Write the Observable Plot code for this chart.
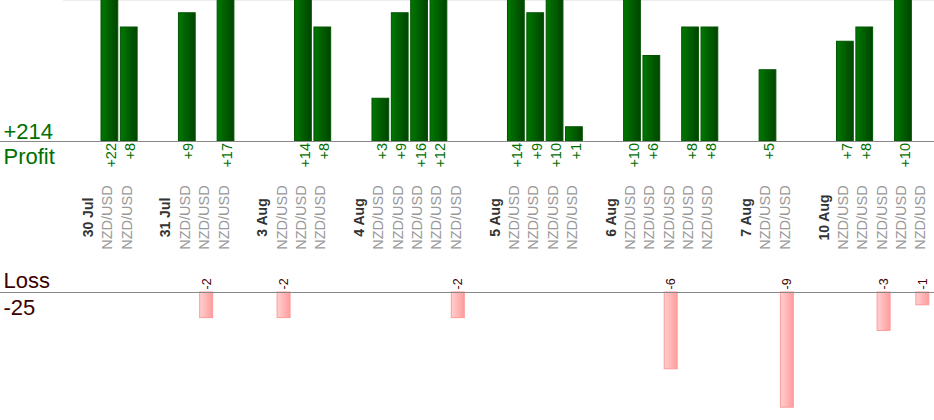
<!DOCTYPE html>
<html>
<head>
<meta charset="utf-8">
<script src="https://cdn.jsdelivr.net/npm/d3@7"></script>
<script src="https://cdn.jsdelivr.net/npm/@observablehq/plot@0.6"></script>
<style>
  html, body { margin: 0; padding: 0; background: #fff; }
  #chart svg { display: block; }
</style>
</head>
<body>
<div id="chart" style="width:934px"></div>
<script>
// ---- data ----
const dates = ["30 Jul", "31 Jul", "3 Aug", "4 Aug", "5 Aug", "6 Aug", "7 Aug", "10 Aug"];
const pairName = "NZD/USD";
const results30Jul = [22, 8];
const results31Jul = [9, -2, 17];
const results3Aug = [-2, 14, 8];
const results4Aug = [3, 9, 16, 12, -2];
const results5Aug = [14, 9, 10, 1];
const results6Aug = [10, 6, -6, 8, 8];
const results7Aug = [5, -9];
const results10Aug = [7, 8, -3, 10, -1];
const resultsByDate = [results30Jul, results31Jul, results3Aug, results4Aug, results5Aug, results6Aug, results7Aug, results10Aug];

// ---- build columns (gap, date header, trades...) ----
const cols = [];
dates.forEach((d, i) => {
  cols.push({key: "gap" + i, kind: "gap"});
  cols.push({key: "date" + i, kind: "date", label: d});
  resultsByDate[i].forEach((v, j) => cols.push({key: `t${i}_${j}`, kind: "trade", label: pairName, value: v}));
});
const keys = cols.map(c => c.key);
const dateCols = cols.filter(c => c.kind === "date");
const tradeCols = cols.filter(c => c.kind === "trade");
const profitRows = tradeCols.filter(c => c.value > 0);
const lossRows = tradeCols.filter(c => c.value < 0);
const totalProfit = d3.sum(profitRows, d => d.value);
const totalLoss = d3.sum(lossRows, d => d.value);

const font = "Arial, 'Liberation Sans', sans-serif";
const xRange = [61, 932];
const profitTop = 141 / 14.25;
const lossBottom = -128 / 12.8;

function gradient(id, c0, c1) {
  return () => {
    const defs = d3.create("svg:defs");
    const g = defs.append("linearGradient").attr("id", id).attr("x1", 0).attr("x2", 1).attr("y1", 0).attr("y2", 0);
    g.append("stop").attr("offset", "0%").attr("stop-color", c0);
    g.append("stop").attr("offset", "100%").attr("stop-color", c1);
    return defs.node();
  };
}

const profitChart = Plot.plot({
  width: 934,
  height: 260,
  marginTop: 0,
  marginBottom: 119,
  marginLeft: 0,
  marginRight: 0,
  style: {fontFamily: font, background: "#fff", overflow: "visible"},
  x: {type: "band", domain: keys, range: xRange, padding: 0, round: false, axis: null},
  y: {domain: [0, profitTop], axis: null},
  marks: [
    gradient("gProfit", "#007800", "#004400"),
    Plot.ruleY([profitTop], {stroke: "#ececec", insetLeft: 63}),
    Plot.barY(profitRows, {x: "key", y: "value", fill: "url(#gProfit)", stroke: "#005400", insetLeft: 1.3, insetRight: 1.3, clip: true}),
    Plot.ruleY([0], {stroke: "#888"}),
    Plot.text(profitRows, {x: "key", y: 0, text: d => "+" + d.value, rotate: -90, textAnchor: "end", dx: 1.5, dy: 1.5, fill: "#007000", fontSize: 14.5}),
    Plot.text(dateCols, {x: "key", text: "label", frameAnchor: "bottom", dx: 2.5, dy: 76, rotate: -90, fontWeight: "bold", fill: "#333", fontSize: 14}),
    Plot.text(tradeCols, {x: "key", text: "label", frameAnchor: "bottom", dx: 2.5, dy: 76, rotate: -90, fill: "#999", fontSize: 14.5}),
    Plot.text(["+" + totalProfit], {frameAnchor: "bottom-left", textAnchor: "start", lineAnchor: "bottom", dx: 3, dy: -3, fill: "#007000", fontSize: 22}),
    Plot.text(["Profit"], {frameAnchor: "bottom-left", textAnchor: "start", lineAnchor: "bottom", dx: 3, dy: 22, fill: "#007000", fontSize: 22})
  ]
});

const lossChart = Plot.plot({
  width: 934,
  height: 160,
  marginTop: 32,
  marginBottom: 0,
  marginLeft: 0,
  marginRight: 0,
  style: {fontFamily: font, background: "#fff", overflow: "visible"},
  x: {type: "band", domain: keys, range: xRange, padding: 0, round: false, axis: null},
  y: {domain: [lossBottom, 0], axis: null},
  marks: [
    gradient("gLoss", "#ffd0d0", "#ff9c9c"),
    Plot.barY(lossRows, {x: "key", y: "value", fill: "url(#gLoss)", stroke: "#ff9999", insetLeft: 3.2, insetRight: 3.2}),
    Plot.ruleY([0], {stroke: "#888"}),
    Plot.text(lossRows, {x: "key", y: 0, text: d => String(d.value), rotate: -90, textAnchor: "start", dy: -3, fill: "#400000", fontSize: 12.5}),
    Plot.text(["Loss"], {frameAnchor: "top-left", textAnchor: "start", lineAnchor: "bottom", dx: 3, dy: -5, fill: "#3a0000", fontSize: 22}),
    Plot.text([String(totalLoss)], {frameAnchor: "top-left", textAnchor: "start", lineAnchor: "bottom", dx: 3, dy: 22, fill: "#3a0000", fontSize: 22})
  ]
});

document.getElementById("chart").append(profitChart, lossChart);
</script>
</body>
</html>
